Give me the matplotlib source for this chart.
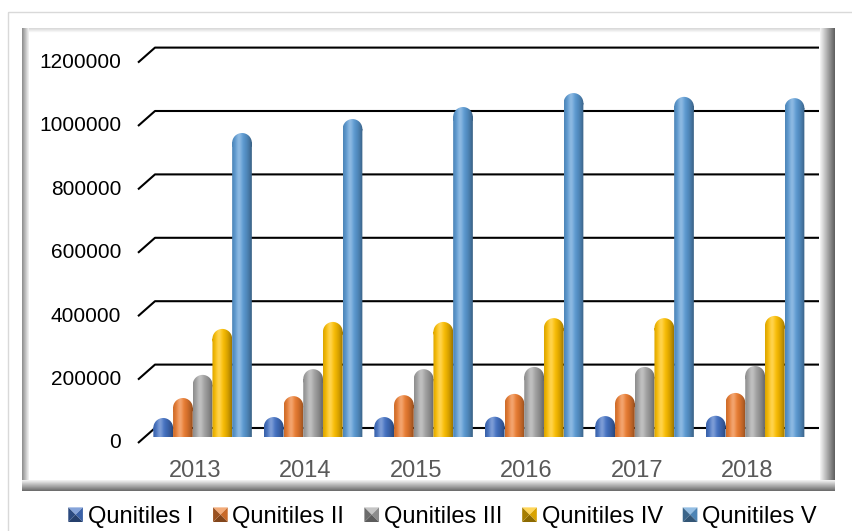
import numpy as np
import matplotlib
matplotlib.use("Agg")
import matplotlib.pyplot as plt
from matplotlib.patches import Rectangle, PathPatch, Patch, Polygon
from matplotlib.path import Path
from matplotlib.transforms import Affine2D
from matplotlib.colors import to_rgb
from matplotlib.legend_handler import HandlerBase

plt.rcParams['font.family'] = ['Liberation Sans', 'DejaVu Sans']

#================ Dati ================
years = ["2013", "2014", "2015", "2016", "2017", "2018"]
series = ["Qunitiles I", "Qunitiles II", "Qunitiles III", "Qunitiles IV", "Qunitiles V"]
q1 = [60000, 63000, 63000, 64000, 66000, 67000]
q2 = [123000, 129000, 132000, 136000, 136000, 139000]
q3 = [196000, 214000, 214000, 221000, 221000, 224000]
q4 = [341000, 363000, 363000, 375000, 375000, 382000]
q5 = [959000, 1003000, 1041000, 1085000, 1073000, 1069000]
yticks = [0, 200000, 400000, 600000, 800000, 1000000, 1200000]
colors = ["#4472C4", "#ED7D31", "#A5A5A5", "#FFC000", "#5B9BD5"]
#======================================

W, H = 852, 531
fig = plt.figure(figsize=(W / 100, H / 100), dpi=100)

# cornice (coordinate in pixel)
bg = fig.add_axes([0, 0, 1, 1])
bg.set_xlim(0, W)
bg.set_ylim(H, 0)
bg.axis('off')
bg.add_patch(Rectangle((8, 12), W, H, fill=False, ec='#d9d9d9', lw=1, zorder=0))
bg.add_patch(Rectangle((22, 28), 813, 463, fc='white', ec='none', zorder=0))


def band(c0, c1, n=24):
    a = np.array(to_rgb(c0))
    b = np.array(to_rgb(c1))
    t = np.linspace(0, 1, n)[:, None]
    return a * (1 - t) + b * t


def fascia(img, ext):
    bg.imshow(img, extent=ext, aspect='auto', interpolation='bilinear', zorder=1)


fascia(band('#d8d8d8', '#ffffff', 8)[:, None, :], (22, 835, 33, 28))
fascia(band('#8c8c8c', '#f4f4f4')[None, :, :], (22, 29, 491, 28))
fascia(band('#f4f4f4', '#606060')[None, :, :], (820, 835, 491, 28))
fascia(band('#f4f4f4', '#6a6a6a')[:, None, :], (22, 835, 491, 480))
bg.set_xlim(0, W)
bg.set_ylim(H, 0)

# asse principale
ppx = 63.4 / 200000      # pixel per unita'
y0px = 437
xpx0 = 202.6
xstep = 110.5
ylo, yhi = -150000, 1350000
xlo, xhi = -1.0, 5.9
left = (xpx0 + xstep * xlo) / W
right = (xpx0 + xstep * xhi) / W
bottom = (H - (y0px - ylo * ppx)) / H
top = (H - (y0px - yhi * ppx)) / H
ax = fig.add_axes([left, bottom, right - left, top - bottom])
ax.patch.set_alpha(0)
ax.axis('off')

# griglia (pseudo 3D)
xf = (138 - xpx0) / xstep
xb = (155 - xpx0) / xstep
xe = (819 - xpx0) / xstep
for v in yticks:
    ax.plot([xf, xb, xe], [v - 6 / ppx, v + 9 / ppx, v + 9 / ppx],
            color='black', lw=1.5, zorder=1, solid_capstyle='butt')
    ax.text((121 - xpx0) / xstep, v - 6 / ppx, str(v), ha='right',
            va='center', fontsize=15, color='black')


def shade(color, n=40):
    rgb = np.array(to_rgb(color))
    t = np.linspace(0, 1, n)
    dark = 0.38 * (np.abs(t - 0.38) / 0.62) ** 2
    light = 0.30 * np.exp(-((t - 0.35) / 0.16) ** 2)
    c = rgb[None, :] * (1 - dark[:, None])
    c = c + (1 - c) * light[:, None]
    return np.clip(c, 0, 1)


w = 19.7 / xstep
ry = (w * xstep / 2) / ppx
data = [q1, q2, q3, q4, q5]
for k, vals in enumerate(data):
    img = shade(colors[k])[None, :, :]
    for i, v in enumerate(vals):
        xc = i + (k - 2) * w
        bt = v - ry
        rect = Path([(xc - w / 2, 0), (xc + w / 2, 0), (xc + w / 2, bt),
                     (xc - w / 2, bt), (xc - w / 2, 0)],
                    [Path.MOVETO, Path.LINETO, Path.LINETO, Path.LINETO, Path.CLOSEPOLY])
        cap = Affine2D().scale(w / 2, ry).translate(xc, bt).transform_path(Path.unit_circle())
        pp = PathPatch(Path.make_compound_path(rect, cap), transform=ax.transData,
                       fc='none', ec='none')
        im = ax.imshow(img, extent=(xc - w / 2, xc + w / 2, 0, v), aspect='auto',
                       interpolation='bilinear', zorder=3)
        im.set_clip_path(pp)

for i, yr in enumerate(years):
    ax.text(i - 0.07, -34 / ppx, yr, ha='center', va='center', fontsize=17,
            color='#595959')

ax.set_xlim(xlo, xhi)
ax.set_ylim(ylo, yhi)


# marcatore della legenda a piramide
class HandlerPiramide(HandlerBase):
    def create_artists(self, legend, orig, xd, yd, width, height, fontsize, trans):
        rgb = np.array(to_rgb(orig.get_facecolor()))
        s = min(width, height)
        x0 = xd * -1 + (width - s) / 2
        y0 = yd * -1 + (height - s) / 2
        cx, cy = x0 + s / 2, y0 + s / 2
        c = [(x0, y0), (x0 + s, y0), (x0 + s, y0 + s), (x0, y0 + s)]
        facce = [(c[3], c[2], rgb + (1 - rgb) * 0.35),    # sopra
                 (c[1], c[2], rgb * 0.85),                 # destra
                 (c[0], c[1], rgb * 0.55),                 # sotto
                 (c[0], c[3], rgb * 0.65)]                 # sinistra
        out = []
        for a, b, col in facce:
            p = Polygon([a, b, (cx, cy)], closed=True, fc=np.clip(col, 0, 1),
                        ec='none', transform=trans)
            out.append(p)
        return out


handles = [Patch(facecolor=c) for c in colors]
fig.legend(handles, series, loc='center', bbox_to_anchor=(442.5 / W, 1 - 517 / H),
           ncol=5, frameon=False, fontsize=17, handlelength=0.62, handleheight=0.62,
           handletextpad=0.2, columnspacing=0.85, borderaxespad=0, borderpad=0,
           handler_map={Patch: HandlerPiramide()})

fig.savefig('out.png', dpi=100)
